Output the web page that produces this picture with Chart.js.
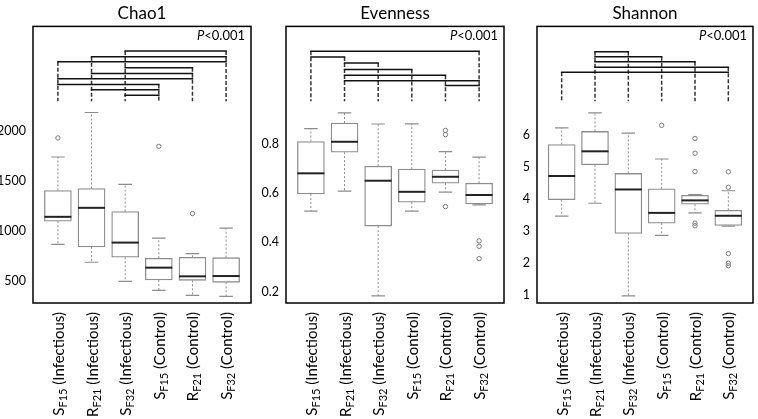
<!DOCTYPE html>
<html>
<head>
<meta charset="utf-8">
<title>Alpha diversity</title>
<style>
  body { margin: 0; background: #fff; }
  .wrap { position: relative; width: 758px; height: 419px; overflow: hidden; }
  .panel { position: absolute; top: 0; }
</style>
</head>
<body>
<div class="wrap">
  <canvas class="panel" id="chao" width="256" height="419" style="left:0"></canvas>
  <canvas class="panel" id="even" width="256" height="419" style="left:253px"></canvas>
  <canvas class="panel" id="shan" width="254" height="419" style="left:504px"></canvas>
</div>

<script src="https://cdn.jsdelivr.net/npm/chart.js"></script>
<script>
  // Gruppen: Hauptbuchstabe, Index, Rest
  const groups = [
    ['S', 'F15', ' (Infectious)'],
    ['R', 'F21', ' (Infectious)'],
    ['S', 'F32', ' (Infectious)'],
    ['S', 'F15', ' (Control)'],
    ['R', 'F21', ' (Control)'],
    ['S', 'F32', ' (Control)']
  ];

  // Chao1
  const chaoLow    = [868, 688, 497, 406, 356, 346];
  const chaoQ1     = [1099, 842, 738, 510, 507, 487];
  const chaoMedian = [1143, 1233, 885, 634, 547, 550];
  const chaoQ3     = [1407, 1427, 1196, 728, 738, 734];
  const chaoHigh   = [1742, 2188, 1468, 929, 775, 1029];
  const chaoOutliers = [[1, 1933], [4, 1849], [5, 1176]];
  const chaoTicks  = [500, 1000, 1500, 2000];
  const chaoPairs  = [[3, 6], [2, 6], [1, 6], [3, 5], [2, 5], [1, 5], [1, 4], [2, 4], [3, 4]];
  const chaoLevels = [2803, 2747, 2697, 2637, 2579, 2526, 2469, 2416, 2361];
  const chaoBase   = 2301;

  // Evenness
  const evenLow    = [0.527, 0.608, 0.183, 0.527, 0.604, 0.552];
  const evenQ1     = [0.596, 0.766, 0.466, 0.563, 0.640, 0.556];
  const evenMedian = [0.680, 0.808, 0.650, 0.605, 0.666, 0.592];
  const evenQ3     = [0.809, 0.884, 0.709, 0.697, 0.693, 0.640];
  const evenHigh   = [0.861, 0.925, 0.880, 0.881, 0.768, 0.746];
  const evenOutliers = [[5, 0.854], [5, 0.837], [5, 0.545], [6, 0.406], [6, 0.384], [6, 0.334]];
  const evenTicks  = [0.2, 0.4, 0.6, 0.8];
  const evenPairs  = [[1, 6], [1, 2], [2, 3], [2, 4], [2, 5], [2, 6], [5, 6]];
  const evenLevels = [1.175, 1.152, 1.128, 1.101, 1.078, 1.056, 1.036];
  const evenBase   = 0.972;

  // Shannon
  const shanLow    = [3.46, 3.86, 0.97, 2.86, 3.56, 3.15];
  const shanQ1     = [3.97, 5.06, 2.92, 3.24, 3.83, 3.17];
  const shanMedian = [4.71, 5.48, 4.29, 3.56, 3.95, 3.47];
  const shanQ3     = [5.69, 6.10, 4.79, 4.31, 4.11, 3.64];
  const shanHigh   = [6.21, 6.68, 6.05, 5.24, 4.13, 4.25];
  const shanOutliers = [[4, 6.29], [5, 5.88], [5, 5.42], [5, 4.85], [5, 3.24], [5, 3.16],
                        [6, 4.84], [6, 4.36], [6, 2.29], [6, 1.99], [6, 1.91]];
  const shanTicks  = [1, 2, 3, 4, 5, 6];
  const shanPairs  = [[2, 3], [2, 4], [2, 5], [2, 6], [1, 6]];
  const shanLevels = [8.584, 8.428, 8.272, 8.103, 7.947];
  const shanBase   = 7.04;

  const FONT = 'Lato, "Open Sans", sans-serif';

  // Whisker, Median, Klammern, Rahmen und Beschriftung
  const boxExtras = {
    id: 'boxExtras',
    afterDatasetsDraw(chart, args, o) {
      const { ctx, chartArea: a } = chart;
      const x = chart.scales.x, y = chart.scales.y;
      const bars = chart.getDatasetMeta(0).data;
      ctx.save();
      o.median.forEach((m, i) => {
        const cx = x.getPixelForValue(i + 1);
        const w = bars[i].width;
        // Whisker gestrichelt
        ctx.strokeStyle = '#8c8c8c';
        ctx.lineWidth = 1;
        ctx.setLineDash([2, 2]);
        ctx.beginPath();
        ctx.moveTo(cx, y.getPixelForValue(o.q3[i]));
        ctx.lineTo(cx, y.getPixelForValue(o.high[i]));
        ctx.moveTo(cx, y.getPixelForValue(o.q1[i]));
        ctx.lineTo(cx, y.getPixelForValue(o.low[i]));
        ctx.stroke();
        ctx.setLineDash([]);
        ctx.lineWidth = 1.2;
        ctx.beginPath();
        [o.high[i], o.low[i]].forEach(v => {
          const py = y.getPixelForValue(v);
          ctx.moveTo(cx - w / 4, py);
          ctx.lineTo(cx + w / 4, py);
        });
        ctx.stroke();
        // Median
        ctx.strokeStyle = '#222';
        ctx.lineWidth = 2;
        ctx.beginPath();
        const my = y.getPixelForValue(m);
        ctx.moveTo(cx - w / 2, my);
        ctx.lineTo(cx + w / 2, my);
        ctx.stroke();
      });

      // Signifikanzklammern
      const top = {};
      o.pairs.forEach((p, k) => {
        p.forEach(c => { top[c] = Math.max(top[c] || -Infinity, o.levels[k]); });
      });
      ctx.strokeStyle = '#333';
      ctx.lineWidth = 1.5;
      ctx.setLineDash([4, 2]);
      ctx.beginPath();
      Object.keys(top).forEach(c => {
        const px = x.getPixelForValue(+c);
        ctx.moveTo(px, y.getPixelForValue(top[c]));
        ctx.lineTo(px, y.getPixelForValue(o.base));
      });
      ctx.stroke();
      ctx.setLineDash([]);
      ctx.strokeStyle = '#111';
      ctx.beginPath();
      o.pairs.forEach((p, k) => {
        const py = y.getPixelForValue(o.levels[k]);
        ctx.moveTo(x.getPixelForValue(p[0]) - 0.75, py);
        ctx.lineTo(x.getPixelForValue(p[1]) + 0.75, py);
      });
      ctx.stroke();

      // Rahmen
      ctx.strokeStyle = '#000';
      ctx.lineWidth = 1.5;
      ctx.strokeRect(a.left, a.top, a.right - a.left, a.bottom - a.top);

      // P-Wert
      ctx.fillStyle = '#000';
      ctx.textBaseline = 'middle';
      ctx.textAlign = 'left';
      ctx.font = '13px ' + FONT;
      const rest = '<0.001';
      const wr = ctx.measureText(rest).width;
      ctx.font = 'italic 13px ' + FONT;
      const wp = ctx.measureText('P').width;
      const sx = a.right - 6 - wr - wp;
      ctx.fillText('P', sx, a.top + 9);
      ctx.font = '13px ' + FONT;
      ctx.fillText(rest, sx + wp, a.top + 9);

      // Gruppenbeschriftung, senkrecht
      groups.forEach((g, i) => {
        const px = x.getPixelForValue(i + 1) + 6;
        const mainF = '15px ' + FONT, subF = '11px ' + FONT;
        ctx.save();
        ctx.translate(px, a.bottom + 9);
        ctx.rotate(-Math.PI / 2);
        ctx.textBaseline = 'alphabetic';
        ctx.font = mainF; const w1 = ctx.measureText(g[0]).width, w3 = ctx.measureText(g[2]).width;
        ctx.font = subF; const w2 = ctx.measureText(g[1]).width;
        let tx = -(w1 + w2 + w3);
        ctx.font = mainF; ctx.fillText(g[0], tx, 0); tx += w1;
        ctx.font = subF; ctx.fillText(g[1], tx, 3); tx += w2;
        ctx.font = mainF; ctx.fillText(g[2], tx, 0);
        ctx.restore();
      });
      ctx.restore();
    }
  };

  function makePanel(id, title, low, q1, median, q3, high, outliers, ticks, yMin, yMax, pairs, levels, base, padRight) {
    return new Chart(document.getElementById(id), {
      type: 'bar',
      data: {
        datasets: [{
          type: 'bar',
          data: q1.map((v, i) => ({ x: i + 1, y: [v, q3[i]] })),
          backgroundColor: '#fff',
          borderColor: '#8c8c8c',
          borderWidth: 1.3,
          borderSkipped: false,
          barThickness: 27
        }, {
          type: 'scatter',
          data: outliers.map(p => ({ x: p[0], y: p[1] })),
          pointStyle: 'circle',
          pointRadius: 2.2,
          borderColor: '#7a7a7a',
          backgroundColor: 'rgba(0,0,0,0)',
          borderWidth: 1
        }]
      },
      options: {
        responsive: false,
        animation: false,
        layout: { padding: { top: 0, right: padRight, bottom: 116, left: 0 } },
        scales: {
          x: { type: 'linear', min: 0.26, max: 6.74, offset: false, display: false },
          y: {
            min: yMin, max: yMax,
            grid: { display: false, drawTicks: false },
            border: { display: false },
            afterBuildTicks: s => { s.ticks = ticks.map(v => ({ value: v })); },
            afterFit: s => { s.width = 33; },
            ticks: {
              padding: 7, color: '#000', font: { family: FONT, size: 12.5 },
              callback: v => String(v)
            }
          }
        },
        plugins: {
          legend: { display: false },
          tooltip: { enabled: false },
          title: {
            display: true, text: title, fullSize: false, color: '#000',
            font: { family: FONT, size: 17, weight: 'normal' },
            padding: { top: 3, bottom: 3 }
          },
          boxExtras: { low, q1, median, q3, high, pairs, levels, base }
        }
      },
      plugins: [boxExtras]
    });
  }

  makePanel('chao', 'Chao1', chaoLow, chaoQ1, chaoMedian, chaoQ3, chaoHigh, chaoOutliers,
    chaoTicks, 280, 3050, chaoPairs, chaoLevels, chaoBase, 3);
  makePanel('even', 'Evenness', evenLow, evenQ1, evenMedian, evenQ3, evenHigh, evenOutliers,
    evenTicks, 0.154, 1.276, evenPairs, evenLevels, evenBase, 3);
  makePanel('shan', 'Shannon', shanLow, shanQ1, shanMedian, shanQ3, shanHigh, shanOutliers,
    shanTicks, 0.75, 9.375, shanPairs, shanLevels, shanBase, 1);
</script>
</body>
</html>
